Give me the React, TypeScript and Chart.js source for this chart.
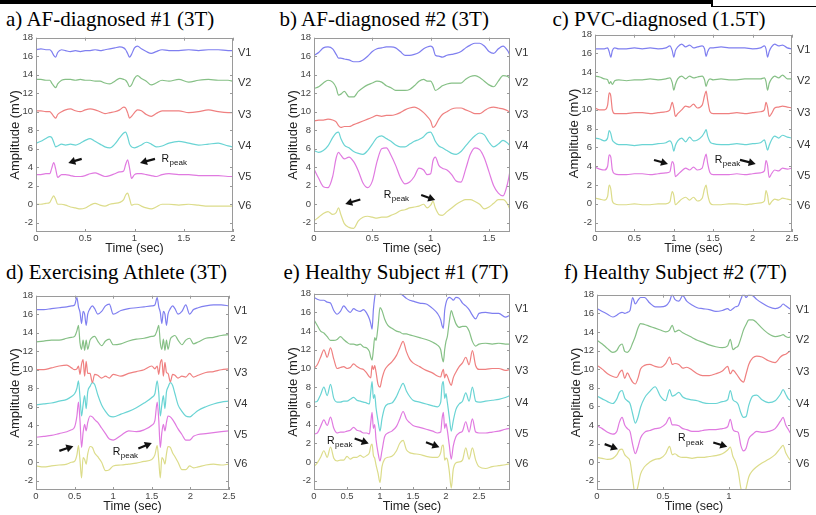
import React, { useEffect, useRef } from 'react';
import { Chart, registerables } from 'chart.js';

Chart.register(...registerables);

// ---------- shared ----------
const LEAD_NAMES = ['V1', 'V2', 'V3', 'V4', 'V5', 'V6'];
const LEAD_COLORS = ['#7f7ff0', '#86c086', '#ef8080', '#6ad4d4', '#e07ae0', '#dcdc8a'];
const LEAD_LABEL_LEVELS = [16.4, 13.1, 9.7, 6.3, 3.0, -0.2];
const Y_TICKS = [-2, 0, 2, 4, 6, 8, 10, 12, 14, 16, 18];
const Y_MIN = -3;
const Y_MAX = 18;

// ---------- a) AF-diagnosed #1 ----------
const aTime = [0, 0.05, 0.1, 0.14, 0.16, 0.18, 0.2, 0.22, 0.26, 0.3, 0.35, 0.4, 0.45, 0.5, 0.55, 0.6, 0.65, 0.7, 0.75, 0.8, 0.85, 0.89, 0.91, 0.93, 0.95, 0.97, 1.0, 1.03, 1.07, 1.12, 1.17, 1.22, 1.28, 1.35, 1.45, 1.55, 1.65, 1.75, 1.85, 1.95, 2.0];
const aV1 = [16.7, 16.8, 16.7, 16.7, 16.5, 16.1, 15.9, 16.4, 16.7, 16.6, 16.5, 16.6, 16.5, 16.6, 16.6, 16.7, 16.6, 16.7, 16.8, 16.9, 17.0, 16.9, 16.7, 16.3, 15.9, 16.2, 16.9, 17.1, 16.8, 16.5, 16.3, 16.5, 16.7, 16.6, 16.6, 16.7, 16.6, 16.7, 16.7, 16.6, 16.6];
const aV2 = [13.5, 13.5, 13.4, 13.4, 13.1, 12.8, 12.6, 13.0, 13.4, 13.5, 13.5, 13.4, 13.5, 13.4, 13.4, 13.3, 13.3, 13.1, 13.0, 13.3, 13.6, 13.5, 13.4, 13.1, 12.7, 12.9, 13.6, 13.9, 13.6, 13.3, 12.9, 13.1, 13.4, 13.3, 13.5, 13.2, 13.4, 13.5, 13.4, 13.4, 13.3];
const aV3 = [10.1, 10.1, 10.0, 10.0, 9.8, 9.5, 9.3, 9.7, 10.0, 10.2, 10.3, 10.1, 10.0, 10.2, 10.3, 10.2, 10.0, 9.8, 9.9, 10.0, 10.2, 10.5, 10.4, 9.9, 9.3, 9.5, 9.9, 10.2, 10.1, 9.7, 9.5, 9.8, 10.1, 10.1, 10.1, 9.9, 10.0, 10.2, 10.0, 9.9, 9.9];
const aV4 = [6.6, 6.8, 7.1, 7.3, 7.2, 6.7, 6.2, 6.3, 6.5, 6.4, 6.5, 6.4, 6.6, 6.9, 7.1, 6.8, 6.5, 6.2, 6.1, 6.5, 7.2, 7.7, 7.8, 7.3, 6.5, 6.2, 6.1, 6.2, 6.4, 6.7, 6.5, 6.2, 6.3, 6.6, 6.8, 6.6, 6.4, 6.5, 6.6, 6.3, 6.2];
const aV5 = [3.2, 3.2, 3.3, 3.3, 3.9, 4.5, 3.8, 2.9, 3.2, 3.2, 3.1, 3.0, 3.0, 3.1, 3.3, 3.4, 3.2, 3.0, 3.1, 3.3, 3.5, 3.6, 4.3, 4.8, 3.9, 2.8, 3.2, 3.3, 3.3, 3.2, 3.1, 3.0, 3.2, 3.3, 3.2, 3.2, 3.1, 3.1, 3.1, 3.0, 3.0];
const aV6 = [0.0, 0.0, 0.1, 0.2, 0.6, 0.9, 0.5, 0.0, 0.0, -0.1, -0.3, -0.4, -0.5, -0.4, -0.1, 0.1, -0.1, -0.2, 0.0, 0.1, 0.2, 0.5, 1.0, 1.2, 0.6, -0.1, 0.0, 0.0, -0.2, -0.4, -0.5, -0.3, 0.0, 0.0, -0.1, 0.0, -0.1, -0.2, -0.2, -0.2, -0.2];
const aTicks = [0, 0.5, 1, 1.5, 2];
const aArrows = [[0.464, 4.9, 0.328, 4.47], [1.208, 4.9, 1.056, 4.47]];
const aRpeak = [1.274, 4.9];

// ---------- b) AF-diagnosed #2 ----------
const bTime = [0, 0.04, 0.08, 0.12, 0.16, 0.19, 0.21, 0.23, 0.26, 0.3, 0.34, 0.38, 0.42, 0.46, 0.5, 0.54, 0.58, 0.62, 0.66, 0.7, 0.74, 0.78, 0.82, 0.86, 0.9, 0.94, 0.97, 1.0, 1.02, 1.04, 1.07, 1.1, 1.14, 1.18, 1.22, 1.26, 1.3, 1.34, 1.38, 1.42, 1.46, 1.5, 1.54, 1.58, 1.62, 1.66, 1.68];
const bV1 = [16.1, 16.4, 16.9, 17.0, 16.8, 16.2, 15.8, 15.8, 15.7, 15.6, 15.4, 15.4, 15.6, 16.0, 16.5, 16.8, 16.9, 17.0, 17.0, 16.9, 16.5, 16.1, 16.1, 16.2, 16.4, 16.8, 17.0, 17.1, 16.9, 16.1, 16.0, 15.9, 16.1, 16.2, 16.3, 16.5, 16.9, 17.2, 17.4, 17.4, 17.1, 16.5, 16.3, 16.8, 17.1, 16.6, 16.1];
const bV2 = [12.5, 12.7, 13.1, 13.4, 13.2, 12.6, 11.8, 11.9, 12.2, 11.6, 11.6, 12.2, 12.6, 12.9, 13.1, 13.3, 13.2, 12.8, 12.6, 12.3, 12.3, 12.3, 12.4, 12.8, 13.3, 13.5, 13.3, 13.3, 12.9, 12.3, 12.5, 12.8, 13.0, 13.1, 13.1, 13.1, 13.5, 13.8, 13.9, 13.7, 13.3, 12.9, 12.7, 13.3, 13.9, 13.8, 13.6];
const bV3 = [9.0, 9.1, 9.1, 9.2, 9.1, 8.9, 8.5, 8.3, 8.4, 8.4, 8.6, 8.8, 9.0, 9.2, 9.4, 9.6, 9.5, 9.6, 9.6, 9.7, 9.9, 10.2, 10.4, 10.5, 10.3, 9.9, 9.5, 9.0, 8.3, 8.5, 9.2, 9.7, 10.0, 10.3, 10.4, 10.4, 10.2, 10.0, 9.8, 9.8, 10.1, 10.4, 10.5, 10.4, 10.3, 10.1, 9.9];
const bV4 = [5.8, 5.6, 5.8, 6.3, 7.2, 7.7, 7.8, 7.1, 6.4, 6.1, 5.7, 5.5, 5.4, 5.8, 6.5, 7.2, 7.4, 7.1, 6.8, 6.4, 6.2, 6.2, 6.5, 6.8, 7.0, 7.3, 7.7, 7.8, 7.4, 6.8, 6.3, 6.1, 5.8, 5.5, 5.4, 5.7, 6.3, 6.9, 7.4, 7.7, 7.5, 6.7, 6.2, 6.5, 6.9, 6.6, 6.3];
const bV5 = [3.8, 2.8, 1.9, 1.8, 3.0, 5.0, 5.6, 5.3, 4.9, 5.1, 4.6, 3.6, 2.3, 1.8, 2.5, 4.6, 6.0, 6.1, 5.3, 4.2, 2.9, 2.2, 2.4, 3.0, 3.9, 3.7, 3.2, 3.3, 4.7, 5.1, 4.2, 3.9, 3.7, 3.2, 2.5, 2.4, 3.8, 5.4, 6.1, 5.9, 5.0, 3.5, 2.0, 1.2, 0.9, 2.3, 3.6];
const bV6 = [-1.8, -1.4, -1.0, -0.8, -1.1, -0.9, -0.4, -1.1, -2.1, -2.5, -2.6, -1.8, -1.4, -1.3, -1.4, -1.5, -1.4, -1.4, -1.2, -1.0, -0.7, -0.6, -0.4, -0.3, -0.2, 0.0, -0.4, -0.1, 0.3, -0.4, -1.1, -1.2, -0.8, -0.4, 0.0, 0.3, 0.5, 0.5, 0.3, 0.0, -0.5, -0.3, 0.1, 0.5, 0.5, 0.0, -0.6];
const bTicks = [0, 0.5, 1, 1.5];
const bArrows = [[0.397, 0.52, 0.268, 0.02], [0.919, 0.99, 1.039, 0.45]];
const bRpeak = [0.597, 0.99];

// ---------- c) PVC-diagnosed ----------
const cTime = [0, 0.06, 0.12, 0.16, 0.18, 0.2, 0.22, 0.25, 0.3, 0.4, 0.5, 0.6, 0.7, 0.8, 0.9, 0.95, 0.98, 1.0, 1.02, 1.05, 1.1, 1.15, 1.2, 1.25, 1.3, 1.36, 1.39, 1.41, 1.43, 1.46, 1.5, 1.6, 1.7, 1.8, 1.9, 2.0, 2.1, 2.15, 2.17, 2.19, 2.21, 2.24, 2.28, 2.33, 2.38, 2.44, 2.5];
const cV1 = [16.5, 16.5, 16.5, 16.6, 16.2, 15.6, 16.3, 16.6, 16.5, 16.5, 16.6, 16.5, 16.6, 16.5, 16.6, 16.8, 16.3, 15.6, 16.3, 16.7, 17.0, 16.7, 16.9, 16.6, 16.7, 16.8, 16.5, 15.7, 16.2, 16.6, 16.6, 16.7, 16.6, 16.6, 16.6, 16.5, 16.6, 16.8, 16.5, 15.6, 16.2, 16.7, 17.0, 16.8, 16.9, 16.6, 16.5];
const cV2 = [13.6, 13.5, 13.3, 13.2, 12.8, 13.0, 12.7, 13.1, 13.2, 13.1, 13.2, 13.2, 13.3, 13.2, 13.3, 13.4, 12.9, 12.1, 12.7, 13.3, 13.6, 13.3, 13.6, 13.4, 13.5, 13.6, 13.2, 12.5, 13.0, 13.3, 13.2, 13.3, 13.2, 13.2, 13.3, 13.3, 13.3, 13.4, 13.0, 12.1, 12.8, 13.3, 13.6, 13.4, 13.7, 13.3, 13.3];
const cV3 = [10.2, 10.0, 10.0, 10.5, 11.8, 11.5, 10.0, 9.6, 9.6, 9.6, 9.7, 9.7, 9.6, 9.7, 9.8, 10.0, 10.8, 10.2, 9.3, 9.6, 10.0, 10.4, 10.3, 10.6, 10.2, 10.5, 11.5, 12.0, 11.0, 9.8, 9.6, 9.6, 9.6, 9.7, 9.6, 9.7, 9.8, 10.0, 10.8, 10.3, 9.3, 9.6, 10.2, 10.3, 10.4, 10.3, 10.2];
const cV4 = [7.0, 6.9, 6.7, 7.0, 7.8, 7.5, 6.8, 6.5, 6.3, 6.3, 6.2, 6.3, 6.3, 6.4, 6.5, 6.7, 6.3, 5.6, 6.2, 6.7, 7.0, 6.6, 7.1, 6.7, 6.8, 7.2, 7.6, 7.9, 7.2, 6.6, 6.4, 6.3, 6.3, 6.4, 6.3, 6.4, 6.5, 6.8, 6.3, 5.7, 6.2, 6.8, 7.2, 7.0, 7.3, 7.1, 7.0];
const cV5 = [3.9, 3.7, 3.6, 4.0, 5.2, 5.0, 3.6, 3.2, 3.1, 3.1, 3.2, 3.2, 3.1, 3.2, 3.3, 3.4, 4.5, 4.2, 2.9, 3.1, 3.5, 3.8, 3.6, 3.9, 3.6, 3.8, 4.8, 5.3, 4.3, 3.3, 3.1, 3.1, 3.1, 3.2, 3.1, 3.2, 3.3, 3.5, 4.6, 4.1, 2.8, 3.2, 3.6, 3.5, 3.8, 3.7, 3.8];
const cV6 = [0.6, 0.5, 0.4, 0.8, 2.0, 1.6, 0.3, 0.0, -0.1, -0.1, 0.0, -0.1, -0.1, 0.0, 0.0, 0.2, 1.3, 0.9, -0.1, 0.1, 0.5, 0.7, 0.4, 0.7, 0.3, 0.6, 1.6, 2.0, 1.0, 0.1, -0.1, -0.1, 0.0, 0.0, -0.1, 0.0, 0.1, 0.3, 1.4, 0.9, -0.1, 0.2, 0.5, 0.4, 0.6, 0.5, 0.4];
const cTicks = [0, 0.5, 1, 1.5, 2, 2.5];
const cArrows = [[0.749, 4.67, 0.926, 4.25], [1.84, 4.67, 2.039, 4.25]];
const cRpeak = [1.519, 4.67];

// ---------- d) Exercising Athlete ----------
const dTime = [0, 0.1, 0.2, 0.3, 0.4, 0.46, 0.5, 0.53, 0.55, 0.57, 0.59, 0.61, 0.63, 0.65, 0.67, 0.7, 0.73, 0.76, 0.8, 0.85, 0.9, 0.95, 1.0, 1.1, 1.2, 1.3, 1.4, 1.5, 1.54, 1.57, 1.59, 1.61, 1.63, 1.65, 1.67, 1.69, 1.71, 1.74, 1.77, 1.8, 1.84, 1.89, 1.94, 1.99, 2.04, 2.1, 2.2, 2.3, 2.4, 2.5];
const dV1 = [16.5, 16.5, 16.6, 16.7, 16.8, 16.9, 17.0, 17.8, 16.8, 16.2, 15.0, 16.3, 16.0, 14.8, 16.0, 16.6, 16.9, 16.6, 16.0, 16.3, 16.9, 17.1, 16.0, 16.4, 16.6, 16.7, 16.8, 16.9, 17.0, 17.8, 16.8, 16.2, 15.0, 16.3, 16.0, 14.8, 16.0, 16.6, 16.9, 16.6, 16.0, 16.3, 17.0, 16.0, 16.5, 16.7, 16.9, 17.0, 17.0, 16.9];
const dV2 = [13.0, 13.1, 13.2, 13.2, 13.4, 13.5, 13.6, 14.2, 14.8, 12.9, 12.2, 13.2, 12.1, 13.2, 12.2, 13.2, 13.5, 13.6, 13.1, 12.6, 13.1, 13.3, 12.7, 12.8, 13.1, 13.3, 13.4, 13.6, 13.7, 14.3, 14.8, 12.9, 12.2, 13.3, 12.1, 13.2, 12.2, 13.3, 13.6, 13.7, 13.2, 12.7, 13.2, 13.4, 12.8, 13.0, 13.4, 13.5, 13.7, 13.8];
const dV3 = [10.0, 10.0, 10.2, 10.4, 10.5, 10.2, 10.0, 10.1, 10.4, 9.5, 10.6, 11.1, 9.3, 10.9, 9.6, 9.6, 8.6, 9.5, 9.4, 9.1, 9.3, 9.1, 9.5, 9.3, 9.6, 9.8, 10.0, 10.4, 10.1, 10.4, 9.5, 10.7, 11.1, 9.3, 10.8, 9.7, 9.6, 8.7, 9.5, 9.4, 9.1, 9.3, 9.2, 9.6, 9.2, 9.4, 9.7, 9.8, 10.0, 10.1];
const dV4 = [6.2, 6.3, 6.4, 6.6, 6.8, 7.1, 7.4, 8.0, 8.8, 7.0, 5.0, 6.2, 7.2, 5.8, 7.6, 8.2, 8.6, 8.4, 7.3, 6.2, 5.5, 5.0, 4.9, 5.2, 5.5, 5.9, 6.4, 7.0, 7.4, 8.8, 7.5, 5.0, 6.2, 7.2, 5.8, 7.6, 8.1, 8.6, 8.3, 7.4, 6.2, 5.5, 5.0, 4.9, 5.2, 5.6, 6.0, 6.3, 6.5, 6.6];
const dV5 = [2.7, 2.8, 2.9, 3.1, 3.3, 3.5, 3.8, 5.0, 6.5, 4.5, 1.6, 3.2, 4.1, 3.4, 4.3, 5.0, 4.9, 4.6, 4.3, 3.7, 3.1, 2.5, 2.4, 2.9, 3.4, 3.3, 3.5, 4.0, 4.5, 6.5, 4.6, 1.6, 3.2, 4.1, 3.4, 4.3, 5.0, 4.9, 4.6, 4.2, 3.6, 3.0, 2.4, 2.4, 2.8, 3.0, 3.1, 3.2, 3.3, 3.4];
const dV6 = [-0.4, -0.5, -0.4, -0.3, -0.2, 0.0, 0.1, 0.8, 1.8, 0.2, -1.7, 0.5, 0.3, -0.2, 0.9, 1.7, 1.6, 1.0, 0.6, 0.0, -0.9, -0.8, -0.4, -0.3, -0.2, -0.1, 0.1, 0.3, 0.8, 1.8, 0.2, -1.7, 0.5, 0.3, -0.2, 0.9, 1.7, 1.6, 1.0, 0.6, 0.0, -0.8, -0.8, -0.4, -0.6, -0.5, -0.3, -0.2, -0.3, -0.2];
const dTicks = [0, 0.5, 1, 1.5, 2, 2.5];
const dArrows = [[0.302, 1.23, 0.484, 1.74], [1.326, 1.49, 1.5, 2.09]];
const dRpeak = [0.993, 1.13];

// ---------- e) Healthy Subject #1 ----------
const eTime = [0, 0.05, 0.1, 0.15, 0.2, 0.25, 0.3, 0.35, 0.4, 0.45, 0.5, 0.55, 0.6, 0.65, 0.7, 0.75, 0.8, 0.84, 0.86, 0.88, 0.9, 0.92, 0.94, 0.97, 1.0, 1.03, 1.07, 1.12, 1.18, 1.25, 1.3, 1.35, 1.4, 1.45, 1.5, 1.6, 1.7, 1.8, 1.87, 1.92, 1.94, 1.96, 1.98, 2.0, 2.02, 2.05, 2.08, 2.11, 2.15, 2.2, 2.25, 2.3, 2.35, 2.4, 2.45, 2.5, 2.6, 2.7, 2.8, 2.9, 2.97];
const eV1 = [17.6, 17.4, 17.3, 17.3, 17.1, 17.0, 16.2, 15.8, 16.1, 16.7, 16.3, 16.0, 16.4, 16.2, 16.1, 16.3, 15.9, 15.3, 14.8, 14.2, 16.3, 17.6, 18.4, 18.8, 19.0, 19.0, 18.9, 18.9, 18.7, 18.5, 18.1, 17.8, 17.5, 17.3, 17.2, 17.0, 16.9, 16.4, 15.9, 15.2, 14.6, 14.3, 16.2, 17.0, 17.4, 17.6, 17.5, 17.3, 17.6, 17.5, 17.0, 16.7, 16.3, 15.7, 15.3, 15.9, 16.0, 15.9, 15.9, 15.5, 15.7];
const eV2 = [15.2, 14.6, 14.0, 13.8, 13.4, 13.0, 13.0, 13.1, 13.4, 13.1, 12.8, 12.6, 12.6, 12.5, 12.6, 12.3, 12.2, 11.8, 11.2, 10.9, 12.0, 13.3, 13.0, 14.5, 16.5, 16.2, 15.3, 14.6, 14.3, 14.0, 13.9, 13.7, 13.7, 13.6, 13.5, 13.3, 13.1, 12.8, 12.5, 12.0, 11.2, 10.7, 12.0, 12.9, 13.4, 15.0, 16.2, 15.6, 14.8, 14.4, 14.5, 14.5, 14.0, 12.9, 12.4, 12.6, 12.7, 12.6, 12.7, 12.6, 12.6];
const eV3 = [10.0, 10.4, 11.2, 12.0, 11.2, 12.2, 11.0, 10.0, 10.1, 10.2, 10.0, 10.1, 10.5, 10.2, 10.0, 9.9, 9.5, 9.1, 9.0, 10.3, 9.9, 10.3, 9.6, 8.3, 8.0, 8.9, 9.8, 10.3, 10.7, 11.4, 12.2, 12.9, 11.8, 11.0, 10.6, 10.2, 9.8, 9.5, 9.2, 9.1, 9.6, 9.9, 9.0, 9.4, 9.2, 8.6, 8.2, 9.0, 9.6, 10.2, 10.6, 11.2, 10.4, 11.9, 10.3, 9.9, 9.9, 10.0, 10.0, 9.8, 9.9];
const eV4 = [6.4, 6.5, 7.2, 8.0, 7.1, 8.3, 6.8, 6.4, 6.4, 6.5, 6.5, 6.7, 6.9, 6.6, 6.5, 6.4, 6.3, 6.2, 7.5, 8.6, 6.8, 7.2, 5.8, 4.4, 3.3, 4.6, 5.8, 6.2, 6.3, 7.0, 7.8, 8.4, 7.6, 7.0, 6.6, 6.4, 6.2, 6.0, 5.9, 6.4, 8.2, 8.6, 6.8, 7.3, 6.4, 4.8, 3.3, 4.4, 5.6, 6.2, 6.5, 7.4, 6.5, 8.0, 6.5, 6.4, 6.5, 6.6, 6.7, 6.9, 7.1];
const eV5 = [3.0, 3.1, 3.8, 4.5, 3.9, 4.8, 3.6, 3.1, 3.2, 3.2, 3.3, 3.4, 3.7, 3.4, 3.3, 3.1, 3.1, 3.0, 4.2, 5.3, 3.6, 4.0, 2.4, 1.0, 0.1, 1.2, 2.7, 3.1, 3.3, 3.8, 4.6, 5.4, 4.6, 4.2, 3.9, 3.7, 3.5, 3.3, 3.1, 3.2, 4.6, 5.3, 3.6, 4.1, 3.4, 1.8, 0.3, 1.7, 2.7, 3.1, 3.3, 4.3, 3.2, 4.6, 3.2, 3.1, 3.1, 3.2, 3.3, 3.5, 3.6];
const eV6 = [-0.5, -0.1, 0.5, 1.2, 0.5, 1.6, 0.4, 0.1, 0.2, 0.2, 0.6, 0.3, 0.5, 0.5, 0.7, 0.5, 0.7, 1.0, 1.7, 1.9, 0.7, 0.4, -0.3, -1.2, -2.2, -0.5, 0.3, 0.5, 0.6, 1.2, 2.0, 2.3, 1.3, 1.0, 0.9, 0.8, 0.6, 0.5, 0.5, 1.0, 1.7, 1.8, 0.2, 0.4, 0.3, -1.0, -2.8, -0.8, -0.1, 0.0, 0.2, 1.5, 0.3, 1.5, 0.2, -0.5, -0.7, -0.5, -0.4, -0.3, -0.2];
const eTicks = [0, 0.5, 1, 1.5, 2, 2.5];
const eArrows = [[0.616, 2.51, 0.829, 1.98], [1.697, 2.1, 1.9, 1.57]];
const eRpeak = [0.197, 2.26];

// ---------- f) Healthy Subject #2 ----------
const fTime = [0, 0.04, 0.08, 0.12, 0.15, 0.17, 0.19, 0.21, 0.23, 0.25, 0.27, 0.29, 0.31, 0.33, 0.36, 0.4, 0.44, 0.48, 0.52, 0.55, 0.57, 0.59, 0.62, 0.65, 0.68, 0.72, 0.76, 0.8, 0.85, 0.9, 0.95, 0.99, 1.01, 1.03, 1.05, 1.07, 1.09, 1.11, 1.13, 1.15, 1.18, 1.21, 1.25, 1.3, 1.35, 1.39, 1.41, 1.43, 1.45, 1.47];
const fV1 = [16.5, 16.2, 15.9, 15.6, 15.8, 16.0, 16.1, 16.0, 16.1, 16.3, 17.7, 17.0, 17.4, 17.7, 17.7, 17.1, 16.7, 16.7, 16.8, 17.3, 18.0, 17.5, 17.3, 17.9, 17.3, 16.9, 16.6, 16.5, 16.4, 16.2, 16.3, 16.5, 16.3, 16.5, 16.7, 16.8, 17.5, 18.1, 17.7, 18.0, 17.9, 17.5, 17.1, 16.7, 16.5, 16.7, 17.0, 16.8, 16.6, 16.4];
const fV2 = [13.1, 12.7, 12.2, 11.8, 12.0, 12.5, 12.7, 11.9, 11.8, 12.1, 12.8, 13.5, 14.4, 14.9, 14.8, 14.6, 14.4, 14.2, 14.0, 14.2, 14.7, 14.0, 14.2, 13.9, 13.7, 13.4, 13.1, 12.9, 12.6, 12.4, 12.3, 12.5, 13.2, 12.1, 12.3, 12.5, 13.3, 14.2, 14.8, 15.3, 15.3, 15.0, 14.4, 13.8, 13.5, 13.6, 13.7, 13.5, 13.4, 13.5];
const fV3 = [10.4, 10.0, 9.5, 9.2, 9.1, 9.6, 9.9, 9.0, 9.6, 9.1, 8.6, 8.4, 9.0, 10.0, 10.4, 10.5, 10.3, 10.2, 10.6, 11.3, 10.5, 10.6, 10.5, 10.1, 10.2, 9.9, 9.5, 9.3, 9.3, 9.5, 9.8, 10.3, 9.5, 9.9, 9.6, 9.2, 8.8, 8.6, 9.5, 10.5, 11.2, 11.4, 11.3, 10.9, 10.7, 11.3, 11.5, 11.6, 11.8, 12.0];
const fV4 = [7.1, 6.8, 6.5, 6.3, 6.8, 7.5, 7.7, 6.9, 6.6, 6.3, 5.2, 4.2, 4.8, 5.9, 6.9, 7.6, 8.1, 7.1, 6.6, 7.8, 7.1, 7.2, 7.5, 7.0, 6.8, 6.7, 6.6, 6.4, 6.3, 6.3, 6.5, 6.7, 7.7, 6.7, 6.5, 6.2, 5.3, 4.8, 4.9, 6.1, 7.1, 7.2, 6.7, 6.4, 6.6, 7.3, 7.8, 7.3, 6.8, 6.6];
const fV5 = [3.9, 3.6, 3.2, 3.0, 3.3, 4.3, 4.8, 4.0, 3.6, 3.3, 1.9, 0.9, 1.6, 2.6, 3.2, 3.4, 3.6, 3.7, 4.1, 4.8, 4.0, 4.0, 3.9, 3.6, 3.5, 3.3, 3.3, 3.4, 3.5, 3.5, 3.6, 3.8, 4.6, 3.5, 3.3, 3.2, 1.8, 1.2, 1.5, 2.5, 3.0, 3.3, 3.2, 3.3, 3.6, 4.4, 4.8, 4.0, 3.5, 3.0];
const fV6 = [0.5, 0.4, 0.3, 0.4, 0.8, 1.3, 1.4, 0.8, 0.5, 0.1, -1.8, -3.5, -2.6, -1.3, -0.5, 0.0, 0.3, 0.4, 0.9, 1.7, 0.8, 0.9, 0.6, 0.5, 0.5, 0.4, 0.5, 0.5, 0.6, 0.7, 0.9, 1.3, 1.6, 0.6, 0.0, -1.0, -2.8, -3.8, -2.8, -1.6, -0.9, -0.5, -0.1, 0.3, 0.8, 1.5, 1.8, 1.0, 0.5, 0.1];
const fTicks = [0, 0.5, 1];
const fArrows = [[0.058, 1.93, 0.159, 1.39], [0.881, 2.11, 0.987, 1.64]];
const fRpeak = [0.614, 2.54];

// ---------- layout ----------
const Y_AXIS_W = 30;
const PAD_TOP = 8;
const PAD_RIGHT = 22;
const X_AXIS_H = 24;
const SANS = '"Liberation Sans", Arial, Helvetica, sans-serif';

const PANELS = [
  { key: 'a', title: 'a) AF-diagnosed #1 (3T)', titleX: 6, titleY: 9, left: 36, top: 37, width: 197, height: 195, xMax: 2, xTicks: aTicks, time: aTime, leads: [aV1, aV2, aV3, aV4, aV5, aV6], arrows: aArrows, rpeak: aRpeak },
  { key: 'b', title: 'b) AF-diagnosed #2 (3T)', titleX: 279.5, titleY: 9, left: 314, top: 37, width: 196, height: 195, xMax: 1.68, xTicks: bTicks, time: bTime, leads: [bV1, bV2, bV3, bV4, bV5, bV6], arrows: bArrows, rpeak: bRpeak },
  { key: 'c', title: 'c) PVC-diagnosed (1.5T)', titleX: 552.5, titleY: 9, left: 595, top: 34, width: 197, height: 198, xMax: 2.5, xTicks: cTicks, time: cTime, leads: [cV1, cV2, cV3, cV4, cV5, cV6], arrows: cArrows, rpeak: cRpeak },
  { key: 'd', title: 'd) Exercising Athlete (3T)', titleX: 6, titleY: 262, left: 36, top: 295, width: 193, height: 195, xMax: 2.5, xTicks: dTicks, time: dTime, leads: [dV1, dV2, dV3, dV4, dV5, dV6], arrows: dArrows, rpeak: dRpeak },
  { key: 'e', title: 'e) Healthy Subject #1 (7T)', titleX: 283.5, titleY: 262, left: 314, top: 293, width: 196, height: 197, xMax: 2.97, xTicks: eTicks, time: eTime, leads: [eV1, eV2, eV3, eV4, eV5, eV6], arrows: eArrows, rpeak: eRpeak },
  { key: 'f', title: 'f) Healthy Subject #2 (7T)', titleX: 564, titleY: 262, left: 597, top: 294, width: 194, height: 196, xMax: 1.47, xTicks: fTicks, time: fTime, leads: [fV1, fV2, fV3, fV4, fV5, fV6], arrows: fArrows, rpeak: fRpeak },
];

function drawArrow(ctx: CanvasRenderingContext2D, x0: number, y0: number, x1: number, y1: number) {
  const ang = Math.atan2(y1 - y0, x1 - x0);
  const headLen = 7;
  const headW = 4;
  const bx = x1 - headLen * Math.cos(ang);
  const by = y1 - headLen * Math.sin(ang);
  ctx.strokeStyle = '#111';
  ctx.fillStyle = '#111';
  ctx.lineWidth = 2.2;
  ctx.beginPath();
  ctx.moveTo(x0, y0);
  ctx.lineTo(bx + Math.cos(ang), by + Math.sin(ang));
  ctx.stroke();
  ctx.beginPath();
  ctx.moveTo(x1, y1);
  ctx.lineTo(bx + headW * Math.sin(ang), by - headW * Math.cos(ang));
  ctx.lineTo(bx - headW * Math.sin(ang), by + headW * Math.cos(ang));
  ctx.closePath();
  ctx.fill();
}

function EcgPanel({ p }: { p: any }) {
  const ref = useRef<HTMLCanvasElement>(null);
  const cw = Y_AXIS_W + p.width + PAD_RIGHT;
  const ch = PAD_TOP + p.height + X_AXIS_H;

  useEffect(() => {
    const canvas = ref.current;
    if (!canvas) return;
    const decor = {
      id: 'decor',
      afterDraw(chart: any) {
        const { ctx, chartArea: ca, scales } = chart;
        const xs = scales.x;
        const ys = scales.y;
        ctx.save();
        ctx.strokeStyle = '#9a9a9a';
        ctx.lineWidth = 1;
        ctx.strokeRect(Math.round(ca.left) + 0.5, Math.round(ca.top) + 0.5, Math.round(ca.width) - 1, Math.round(ca.height) - 1);
        ctx.beginPath();
        p.xTicks.forEach((t: number) => {
          const x = Math.round(xs.getPixelForValue(t)) + 0.5;
          ctx.moveTo(x, ca.bottom);
          ctx.lineTo(x, ca.bottom - 3);
          ctx.moveTo(x, ca.top);
          ctx.lineTo(x, ca.top + 3);
        });
        Y_TICKS.forEach((v) => {
          const y = Math.round(ys.getPixelForValue(v)) + 0.5;
          ctx.moveTo(ca.left, y);
          ctx.lineTo(ca.left + 3, y);
          ctx.moveTo(ca.right, y);
          ctx.lineTo(ca.right - 3, y);
        });
        ctx.stroke();
        ctx.fillStyle = '#333';
        ctx.font = '11px ' + SANS;
        ctx.textAlign = 'left';
        ctx.textBaseline = 'middle';
        LEAD_NAMES.forEach((n, i) => {
          ctx.fillText(n, ca.right + 5, ys.getPixelForValue(LEAD_LABEL_LEVELS[i]));
        });
        p.arrows.forEach((a: number[]) => {
          drawArrow(ctx, xs.getPixelForValue(a[0]), ys.getPixelForValue(a[1]), xs.getPixelForValue(a[2]), ys.getPixelForValue(a[3]));
        });
        const rx = xs.getPixelForValue(p.rpeak[0]);
        const ry = ys.getPixelForValue(p.rpeak[1]);
        ctx.fillStyle = '#111';
        ctx.font = '10.5px ' + SANS;
        ctx.fillText('R', rx, ry);
        const rw = ctx.measureText('R').width;
        ctx.font = '8px ' + SANS;
        ctx.fillText('peak', rx + rw + 0.5, ry + 4);
        ctx.restore();
      },
    };

    const chart = new Chart(canvas, {
      type: 'line',
      data: {
        datasets: p.leads.map((vals: number[], i: number) => ({
          label: LEAD_NAMES[i],
          data: p.time.map((t: number, k: number) => ({ x: t, y: vals[k] })),
          borderColor: LEAD_COLORS[i],
          backgroundColor: LEAD_COLORS[i],
          borderWidth: 1.2,
          pointRadius: 0,
          cubicInterpolationMode: 'monotone',
          fill: false,
        })),
      },
      options: {
        animation: false,
        responsive: false,
        maintainAspectRatio: false,
        events: [],
        layout: { padding: { top: PAD_TOP, right: PAD_RIGHT, left: 0, bottom: 0 } },
        plugins: { legend: { display: false }, tooltip: { enabled: false } },
        scales: {
          x: {
            type: 'linear',
            min: 0,
            max: p.xMax,
            afterBuildTicks: (s: any) => {
              s.ticks = p.xTicks.map((v: number) => ({ value: v }));
            },
            afterFit: (s: any) => {
              s.height = X_AXIS_H;
            },
            grid: { display: false, drawTicks: false },
            border: { display: false },
            ticks: {
              padding: 1,
              autoSkip: false,
              maxRotation: 0,
              color: '#444',
              font: { family: SANS, size: 9.5 },
              callback: (v: any) => String(v),
            },
            title: { display: true, text: 'Time (sec)', color: '#222', font: { family: SANS, size: 12.5 }, padding: 0 },
          },
          y: {
            type: 'linear',
            min: Y_MIN,
            max: Y_MAX,
            afterBuildTicks: (s: any) => {
              s.ticks = Y_TICKS.map((v) => ({ value: v }));
            },
            afterFit: (s: any) => {
              s.width = Y_AXIS_W;
            },
            grid: { display: false, drawTicks: false },
            border: { display: false },
            ticks: {
              padding: 3,
              autoSkip: false,
              color: '#444',
              font: { family: SANS, size: 9.5 },
              callback: (v: any) => String(v),
            },
            title: { display: true, text: 'Amplitude (mV)', color: '#222', font: { family: SANS, size: 13 }, padding: { top: 2, bottom: 0 } },
          },
        },
      },
      plugins: [decor],
    } as any);
    return () => chart.destroy();
  }, [p]);

  return (
    <canvas
      ref={ref}
      width={cw}
      height={ch}
      style={{ position: 'absolute', left: p.left - Y_AXIS_W, top: p.top - PAD_TOP, width: cw, height: ch }}
    />
  );
}

export default function App() {
  return (
    <div style={{ position: 'absolute', left: 0, top: 0, width: 816, height: 515, overflow: 'hidden', background: '#fff' }}>
      <div style={{ position: 'absolute', left: 0, top: 0, width: 712, height: 3.5, background: '#000' }} />
      <div style={{ position: 'absolute', left: 711, top: 0, width: 1.5, height: 7, background: '#000' }} />
      <div style={{ position: 'absolute', left: 711, top: 5.5, width: 105, height: 1.5, background: '#000' }} />
      {PANELS.map((p) => (
        <div
          key={'t' + p.key}
          style={{
            position: 'absolute',
            left: p.titleX,
            top: p.titleY,
            fontFamily: '"Liberation Serif", "Times New Roman", serif',
            fontSize: 21,
            lineHeight: '21px',
            whiteSpace: 'nowrap',
            color: '#000',
          }}
        >
          {p.title}
        </div>
      ))}
      {PANELS.map((p) => (
        <EcgPanel key={p.key} p={p} />
      ))}
    </div>
  );
}
